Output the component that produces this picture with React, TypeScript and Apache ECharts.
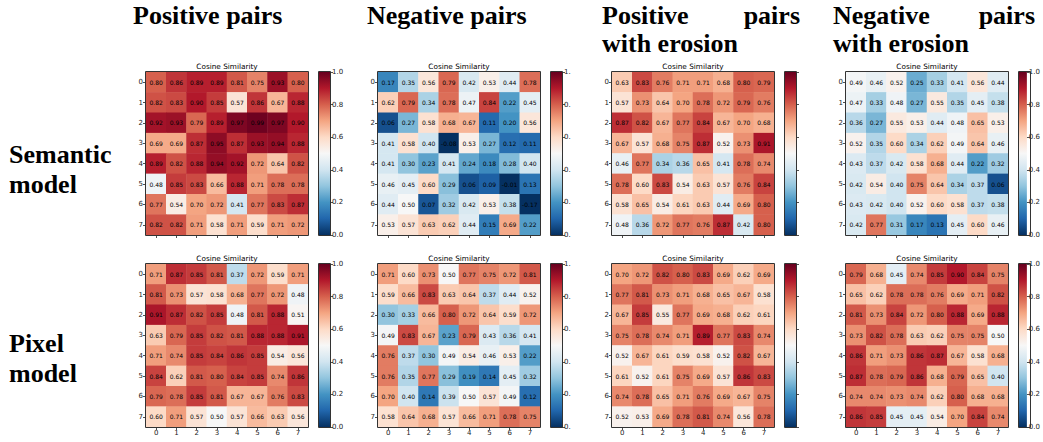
import React, { useEffect, useRef } from "react";
import * as echarts from "echarts";

// ---------- data ----------
const INDEX_LABELS = ["0", "1", "2", "3", "4", "5", "6", "7"];
const PANEL_TITLE = "Cosine Similarity";
const ROW_TITLES = [
  ["Semantic", "model"],
  ["Pixel", "model"],
];
const COL_TITLES_LINE1 = [["Positive pairs"], ["Negative pairs"], ["Positive", "pairs"], ["Negative", "pairs"]];
const COL_TITLES_LINE2 = ["", "", "with erosion", "with erosion"];
const CBAR_MIN = 0;
const CBAR_MAX = 1;
const CBAR_STEP = 0.2;

const SEM_POS = [
  [0.80, 0.86, 0.89, 0.89, 0.81, 0.75, 0.93, 0.80],
  [0.82, 0.83, 0.90, 0.85, 0.57, 0.86, 0.67, 0.88],
  [0.92, 0.93, 0.79, 0.89, 0.97, 0.99, 0.97, 0.90],
  [0.69, 0.69, 0.87, 0.95, 0.87, 0.93, 0.94, 0.88],
  [0.89, 0.82, 0.88, 0.94, 0.92, 0.72, 0.64, 0.82],
  [0.48, 0.85, 0.83, 0.66, 0.88, 0.71, 0.78, 0.78],
  [0.77, 0.54, 0.70, 0.72, 0.41, 0.77, 0.83, 0.87],
  [0.82, 0.82, 0.71, 0.58, 0.71, 0.59, 0.71, 0.72],
];
const SEM_NEG = [
  [0.17, 0.35, 0.56, 0.79, 0.42, 0.53, 0.44, 0.78],
  [0.62, 0.79, 0.34, 0.78, 0.47, 0.84, 0.22, 0.45],
  [0.06, 0.27, 0.58, 0.68, 0.67, 0.11, 0.20, 0.56],
  [0.41, 0.58, 0.40, -0.08, 0.53, 0.27, 0.12, 0.11],
  [0.41, 0.30, 0.23, 0.41, 0.24, 0.18, 0.28, 0.40],
  [0.46, 0.45, 0.60, 0.29, 0.06, 0.09, -0.01, 0.13],
  [0.44, 0.50, 0.07, 0.32, 0.42, 0.53, 0.38, -0.17],
  [0.53, 0.57, 0.63, 0.62, 0.44, 0.15, 0.69, 0.22],
];
const SEM_POS_ERO = [
  [0.63, 0.83, 0.76, 0.71, 0.71, 0.68, 0.80, 0.79],
  [0.57, 0.73, 0.64, 0.70, 0.78, 0.72, 0.79, 0.76],
  [0.87, 0.82, 0.67, 0.77, 0.84, 0.67, 0.70, 0.68],
  [0.67, 0.57, 0.68, 0.75, 0.87, 0.52, 0.73, 0.91],
  [0.46, 0.77, 0.34, 0.36, 0.65, 0.41, 0.78, 0.74],
  [0.78, 0.60, 0.83, 0.54, 0.63, 0.57, 0.76, 0.84],
  [0.58, 0.65, 0.54, 0.61, 0.63, 0.44, 0.69, 0.80],
  [0.48, 0.36, 0.72, 0.77, 0.76, 0.87, 0.42, 0.80],
];
const SEM_NEG_ERO = [
  [0.49, 0.46, 0.52, 0.25, 0.33, 0.41, 0.56, 0.44],
  [0.47, 0.33, 0.48, 0.27, 0.55, 0.35, 0.45, 0.38],
  [0.36, 0.27, 0.55, 0.53, 0.44, 0.48, 0.65, 0.53],
  [0.52, 0.35, 0.60, 0.34, 0.62, 0.49, 0.64, 0.46],
  [0.43, 0.37, 0.42, 0.58, 0.68, 0.44, 0.22, 0.32],
  [0.42, 0.54, 0.40, 0.75, 0.64, 0.34, 0.37, 0.06],
  [0.43, 0.42, 0.40, 0.52, 0.60, 0.58, 0.37, 0.38],
  [0.42, 0.77, 0.31, 0.17, 0.13, 0.45, 0.60, 0.46],
];
const PIX_POS = [
  [0.71, 0.87, 0.85, 0.81, 0.37, 0.72, 0.59, 0.71],
  [0.81, 0.73, 0.57, 0.58, 0.68, 0.77, 0.72, 0.48],
  [0.91, 0.87, 0.82, 0.85, 0.48, 0.81, 0.88, 0.51],
  [0.63, 0.79, 0.85, 0.82, 0.81, 0.88, 0.88, 0.91],
  [0.71, 0.74, 0.85, 0.84, 0.86, 0.85, 0.54, 0.56],
  [0.84, 0.62, 0.81, 0.80, 0.84, 0.85, 0.74, 0.86],
  [0.79, 0.78, 0.85, 0.81, 0.67, 0.67, 0.76, 0.83],
  [0.60, 0.71, 0.57, 0.50, 0.57, 0.66, 0.63, 0.56],
];
const PIX_NEG = [
  [0.71, 0.60, 0.73, 0.50, 0.77, 0.75, 0.72, 0.81],
  [0.59, 0.66, 0.83, 0.63, 0.64, 0.37, 0.44, 0.52],
  [0.30, 0.33, 0.66, 0.80, 0.72, 0.64, 0.59, 0.72],
  [0.49, 0.83, 0.67, 0.23, 0.79, 0.43, 0.36, 0.41],
  [0.76, 0.37, 0.30, 0.49, 0.54, 0.46, 0.53, 0.22],
  [0.76, 0.35, 0.77, 0.29, 0.19, 0.14, 0.45, 0.32],
  [0.70, 0.40, 0.14, 0.39, 0.50, 0.57, 0.49, 0.12],
  [0.58, 0.64, 0.68, 0.57, 0.66, 0.71, 0.78, 0.75],
];
const PIX_POS_ERO = [
  [0.70, 0.72, 0.82, 0.80, 0.83, 0.69, 0.62, 0.69],
  [0.77, 0.81, 0.73, 0.71, 0.68, 0.65, 0.67, 0.58],
  [0.67, 0.85, 0.55, 0.77, 0.69, 0.68, 0.62, 0.61],
  [0.75, 0.78, 0.74, 0.71, 0.89, 0.77, 0.83, 0.74],
  [0.52, 0.67, 0.61, 0.59, 0.58, 0.52, 0.82, 0.67],
  [0.61, 0.52, 0.61, 0.75, 0.69, 0.57, 0.86, 0.83],
  [0.74, 0.78, 0.65, 0.71, 0.76, 0.69, 0.67, 0.75],
  [0.52, 0.53, 0.69, 0.78, 0.81, 0.74, 0.56, 0.78],
];
const PIX_NEG_ERO = [
  [0.79, 0.68, 0.45, 0.74, 0.85, 0.90, 0.84, 0.75],
  [0.65, 0.62, 0.78, 0.78, 0.76, 0.69, 0.71, 0.82],
  [0.81, 0.73, 0.84, 0.72, 0.80, 0.88, 0.69, 0.88],
  [0.73, 0.82, 0.78, 0.63, 0.62, 0.75, 0.75, 0.50],
  [0.86, 0.71, 0.73, 0.86, 0.87, 0.67, 0.58, 0.68],
  [0.87, 0.78, 0.79, 0.86, 0.68, 0.79, 0.65, 0.40],
  [0.74, 0.74, 0.73, 0.74, 0.62, 0.80, 0.68, 0.68],
  [0.86, 0.85, 0.45, 0.45, 0.54, 0.70, 0.84, 0.74],
];

const MATRICES = [
  [SEM_POS, SEM_NEG, SEM_POS_ERO, SEM_NEG_ERO],
  [PIX_POS, PIX_NEG, PIX_POS_ERO, PIX_NEG_ERO],
];

// matplotlib RdBu_r
const RDBU_R = [
  "#053061", "#2166ac", "#4393c3", "#92c5de", "#d1e5f0", "#f7f7f7",
  "#fddbc7", "#f4a582", "#d6604d", "#b2182b", "#67001f",
];

// ---------- layout ----------
const HM_LEFT = [146, 378, 612, 846];
const HM_TOP = [72, 264];
const HM_W = 162;
const HM_H = 163;
const CB_GAP = 11;
const CB_W = 11;
const COL_TITLE_LEFT = [133, 367, 602, 833];
const COL_TITLE_RIGHT = [285, 530, 800, 1035];
const COL_TITLE_Y = [15, 43];
const ROW_TITLE_Y = [[154, 184], [343, 373]];

const SANS = "DejaVu Sans";
const SERIF = "Liberation Serif";

function buildOption() {
  const grid: any[] = [];
  const xAxis: any[] = [];
  const yAxis: any[] = [];
  const series: any[] = [];
  const graphic: any[] = [];
  const heatIdx: number[] = [];

  for (let r = 0; r < 2; r++) {
    for (let c = 0; c < 4; c++) {
      const left = HM_LEFT[c];
      const top = HM_TOP[r];
      const gi = grid.length;
      grid.push({ left, top, width: HM_W, height: HM_H, containLabel: false });
      xAxis.push({
        type: "category",
        gridIndex: gi,
        data: INDEX_LABELS,
        position: "bottom",
        axisLine: { show: false },
        axisTick: { show: true, alignWithLabel: true, length: 3, lineStyle: { color: "#222", width: 0.8 } },
        axisLabel: { show: r === 1, interval: 0, fontSize: 7, color: "#222", margin: 2, fontFamily: SANS },
        splitLine: { show: false },
      });
      yAxis.push({
        type: "category",
        gridIndex: gi,
        data: INDEX_LABELS,
        inverse: true,
        axisLine: { show: false },
        axisTick: { show: true, alignWithLabel: true, length: 3, lineStyle: { color: "#222", width: 0.8 } },
        axisLabel: { show: true, interval: 0, fontSize: 7, color: "#222", margin: 3, fontFamily: SANS },
        splitLine: { show: false },
      });
      const m = MATRICES[r][c];
      const data: any[] = [];
      m.forEach((row, yi) =>
        row.forEach((v, xi) => {
          data.push([xi, yi, v, Math.min(CBAR_MAX, Math.max(CBAR_MIN, v))]);
        })
      );
      heatIdx.push(series.length);
      series.push({
        type: "heatmap",
        xAxisIndex: gi,
        yAxisIndex: gi,
        data,
        itemStyle: { borderWidth: 0 },
        emphasis: { disabled: true },
        label: {
          show: true,
          formatter: (p: any) => p.value[2].toFixed(2),
          fontSize: 6,
          color: "#000",
          fontFamily: SANS,
        },
      });

      // colorbar
      const ci = grid.length;
      grid.push({ left: left + HM_W + CB_GAP, top, width: CB_W, height: HM_H, containLabel: false });
      xAxis.push({ type: "category", gridIndex: ci, data: ["cb"], show: false });
      yAxis.push({
        type: "value",
        gridIndex: ci,
        min: CBAR_MIN,
        max: CBAR_MAX,
        interval: CBAR_STEP,
        position: "right",
        axisLine: { show: false },
        axisTick: { show: true, length: 3, lineStyle: { color: "#222", width: 0.8 } },
        axisLabel: {
          show: c !== 2,
          fontSize: 7,
          color: "#222",
          margin: 2,
          fontFamily: SANS,
          formatter: (v: number) => (c === 1 ? v.toFixed(1).slice(0, 2) : v.toFixed(1)),
        },
        splitLine: { show: false },
      });
      const stops = RDBU_R.map((col, i) => ({ offset: i / (RDBU_R.length - 1), color: col }));
      series.push({
        type: "bar",
        xAxisIndex: ci,
        yAxisIndex: ci,
        data: [CBAR_MAX],
        barWidth: "100%",
        silent: true,
        itemStyle: { color: new echarts.graphic.LinearGradient(0, 1, 0, 0, stops) },
      });

      // frames
      graphic.push({
        type: "rect",
        z: 100,
        shape: { x: left - 0.5, y: top - 0.5, width: HM_W + 1, height: HM_H + 1 },
        style: { fill: "none", stroke: "#333", lineWidth: 1 },
        silent: true,
      });
      graphic.push({
        type: "rect",
        z: 100,
        shape: { x: left + HM_W + CB_GAP - 0.5, y: top - 0.5, width: CB_W + 1, height: HM_H + 1 },
        style: { fill: "none", stroke: "#333", lineWidth: 1 },
        silent: true,
      });
      // panel title
      graphic.push({
        type: "text",
        z: 100,
        x: left + HM_W / 2,
        y: top - 6,
        style: {
          text: PANEL_TITLE,
          fontSize: 7.3,
          fontFamily: SANS,
          fill: "#000",
          align: "center",
          verticalAlign: "middle",
        },
      });
    }
  }

  // column titles
  const serifStyle = { fontSize: 26, fontWeight: "bold", fontFamily: SERIF, fill: "#000", verticalAlign: "middle" };
  for (let c = 0; c < 4; c++) {
    const l1 = COL_TITLES_LINE1[c];
    graphic.push({ type: "text", x: COL_TITLE_LEFT[c], y: COL_TITLE_Y[0], style: { ...serifStyle, text: l1[0], align: "left" } });
    if (l1.length > 1) {
      graphic.push({ type: "text", x: COL_TITLE_RIGHT[c], y: COL_TITLE_Y[0], style: { ...serifStyle, text: l1[1], align: "right" } });
    }
    if (COL_TITLES_LINE2[c]) {
      graphic.push({ type: "text", x: COL_TITLE_LEFT[c], y: COL_TITLE_Y[1], style: { ...serifStyle, text: COL_TITLES_LINE2[c], align: "left" } });
    }
  }
  // row titles
  for (let r = 0; r < 2; r++) {
    ROW_TITLES[r].forEach((t, i) => {
      graphic.push({ type: "text", x: 9, y: ROW_TITLE_Y[r][i], style: { ...serifStyle, text: t, align: "left" } });
    });
  }

  return {
    animation: false,
    backgroundColor: "#fff",
    grid,
    xAxis,
    yAxis,
    visualMap: {
      show: false,
      type: "continuous",
      min: CBAR_MIN,
      max: CBAR_MAX,
      dimension: 3,
      seriesIndex: heatIdx,
      inRange: { color: RDBU_R },
    },
    series,
    graphic,
  };
}

export default function App() {
  const ref = useRef<HTMLDivElement>(null);
  useEffect(() => {
    if (!ref.current) return;
    const chart = echarts.init(ref.current, undefined, { renderer: "svg" });
    chart.setOption(buildOption() as any);
    return () => chart.dispose();
  }, []);
  return (
    <div
      ref={ref}
      style={{ position: "fixed", left: 0, top: 0, width: 1043, height: 442, background: "#fff" }}
    />
  );
}
